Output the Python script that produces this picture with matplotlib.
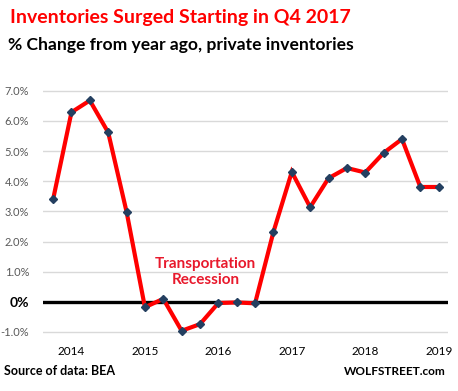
import matplotlib
matplotlib.use("Agg")
import matplotlib.pyplot as plt

# Data: quarterly % change from year ago, private inventories (2013Q4 .. 2019Q1)
values = [3.4, 6.29, 6.68, 5.62, 2.99,
          -0.18, 0.1, -0.96, -0.74, -0.04, -0.02, -0.05,
          2.32, 4.31, 3.14, 4.1, 4.44, 4.29, 4.94, 5.4, 3.81, 3.81]
year_labels = ["2014", "2015", "2016", "2017", "2018", "2019"]
year_positions = [1, 5, 9, 13, 17, 21]
y_ticks = [-1, 0, 1, 2, 3, 4, 5, 6, 7]
y_labels = ["-1.0%", "0%", "1.0%", "2.0%", "3.0%", "4.0%", "5.0%", "6.0%", "7.0%"]

FONT = ["Lato", "DejaVu Sans"]
plt.rcParams['font.family'] = FONT

fig = plt.figure(figsize=(4.58, 3.91), dpi=100)
ax = fig.add_axes([0.0939, 0.1394, 0.884, 0.636])

x = list(range(len(values)))
ax.set_xlim(-0.55, 21.5)
ax.set_ylim(-1.15, 7.1)

ax.set_yticks(y_ticks)
ax.set_yticklabels(y_labels)
ax.grid(axis='y', color='#D9D9D9', linewidth=1.0)
ax.set_axisbelow(True)
ax.axhline(0, color='black', linewidth=2.4, zorder=2)

ax.plot(x, values, color='#FF0000', linewidth=3.0, zorder=3,
        marker='D', markersize=4.5, markerfacecolor='#243F60',
        markeredgecolor='#243F60', solid_joinstyle='miter')

ax.set_xticks(year_positions)
ax.set_xticklabels(year_labels)

for s in ax.spines.values():
    s.set_visible(False)
ax.tick_params(axis='both', length=0)
ax.tick_params(axis='y', pad=10, labelsize=8, labelcolor='#595959')
ax.tick_params(axis='x', pad=7, labelsize=8.5, labelcolor='black')

for lbl in ax.get_yticklabels():
    if lbl.get_text() == "0%":
        lbl.set_fontweight('bold')
        lbl.set_color('black')
        lbl.set_fontsize(10)

ax.text(8.3, 0.98, "Transportation\nRecession", color='#E8192C', fontsize=11,
        fontweight='bold', ha='center', va='center', linespacing=1.2, zorder=4)

fig.text(0.022, 0.94, "Inventories Surged Starting in Q4 2017", color='#FF0000',
         fontsize=14, fontweight='bold', ha='left', va='baseline')
fig.text(0.018, 0.872, "% Change from year ago, private inventories", color='black',
         fontsize=12.6, fontweight='bold', ha='left', va='baseline')
fig.text(0.009, 0.04, "Source of data: BEA", color='black', fontsize=9,
         fontweight='bold', ha='left', va='baseline')
fig.text(0.974, 0.04, "WOLFSTREET.com", color='black', fontsize=8.5,
         fontweight='bold', ha='right', va='baseline')

fig.savefig("out.png", dpi=100)
